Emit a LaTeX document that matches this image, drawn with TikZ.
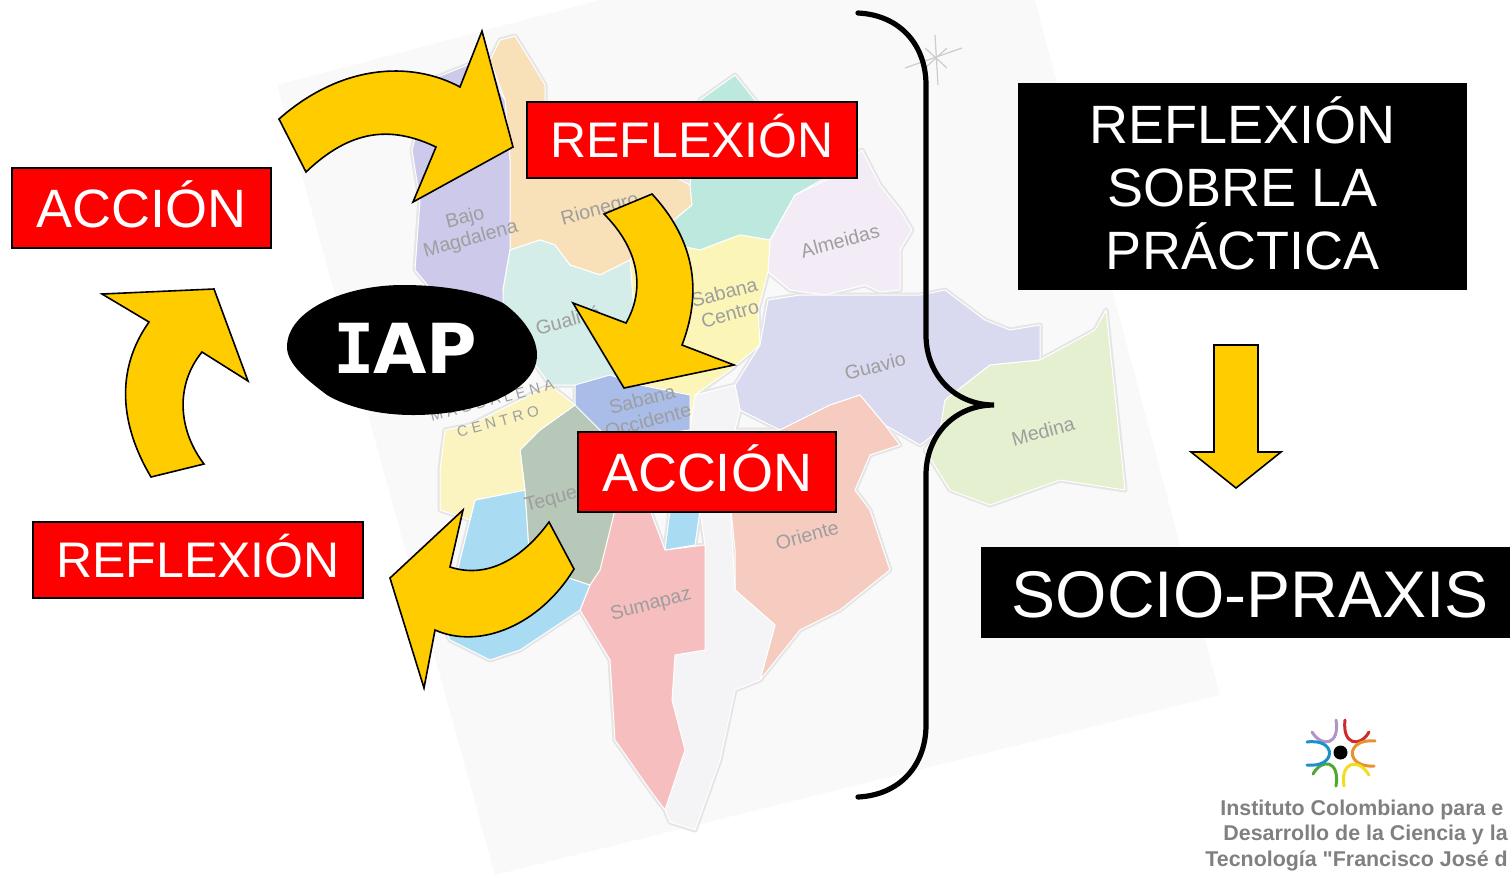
\documentclass[tikz,border=0pt]{standalone}
\usepackage{fontspec}
\setmainfont{Liberation Sans}
\newfontfamily\logofont{Liberation Sans}
\newfontfamily\iapmono{DejaVu Sans Mono}
\newfontfamily\iapsans{DejaVu Sans}

\definecolor{arrowyellow}{HTML}{FFCC00}
\definecolor{paper}{HTML}{F9F9F9}
\definecolor{logopurple}{HTML}{B094C8}
\definecolor{logored}{HTML}{D02A2A}
\definecolor{logoorange}{HTML}{E8922F}
\definecolor{logoyellow}{HTML}{F2DC20}
\definecolor{logogreen}{HTML}{50A832}
\definecolor{logoblue}{HTML}{1A90D0}

\tikzset{
    redbox/.style={fill=red, draw=black, line width=0.8pt, text=white, inner sep=0pt},
    blackbox/.style={fill=black, text=white, inner sep=0pt, align=center},
    bigarrow/.style={fill=arrowyellow, draw=black, line width=0.8pt, line join=miter},
    mapregion/.style={fill=regioncolor, draw=white, line width=0.5pt, line join=round},
    maplabel/.style={text=black!38, font=\fontsize{9.8}{11}\selectfont, rotate=15, align=center, inner sep=0pt},
    logoarc/.style={line width=1.5pt, line cap=round},
    logotext/.style={text=black!50, font=\logofont\bfseries\fontsize{10.7}{12}\selectfont, anchor=base west, inner sep=0pt}
}

\newcommand{\mapregion}[2]{
    \definecolor{regioncolor}{HTML}{#1}
    \draw [mapregion] #2 -- cycle;
}

\newcommand{\mapregions}{
    \mapregion{F8E0B8}{(500,40) -- (515,36) -- (530,60) -- (545,85) -- (545,105) -- (690,185) -- (692,205) -- (650,240) -- (630,260) -- (600,275) -- (570,265) -- (555,245) -- (540,240) -- (510,250) -- (505,220) -- (510,160) -- (505,100) -- (490,60)}
    \mapregion{CDC9EA}{(430,80) -- (455,70) -- (480,60) -- (505,100) -- (510,160) -- (510,250) -- (503,290) -- (510,330) -- (440,300) -- (415,270) -- (420,200) -- (412,150)}
    \mapregion{D4EDE8}{(510,250) -- (540,240) -- (555,245) -- (570,265) -- (600,275) -- (630,260) -- (650,300) -- (630,385) -- (575,385) -- (550,385) -- (503,320) -- (503,290)}
    \mapregion{BDE8DE}{(700,100) -- (735,75) -- (755,100) -- (825,178) -- (795,195) -- (770,240) -- (740,235) -- (700,250) -- (650,240) -- (692,205) -- (690,185)}
    \mapregion{F3ECF7}{(795,195) -- (830,178) -- (862,150) -- (880,185) -- (900,210) -- (912,230) -- (900,250) -- (900,290) -- (880,292) -- (865,285) -- (825,295) -- (790,290) -- (768,272) -- (770,240)}
    \mapregion{FBF6B8}{(630,260) -- (650,240) -- (700,250) -- (740,235) -- (770,240) -- (768,272) -- (758,310) -- (760,345) -- (730,370) -- (695,395) -- (690,430) -- (640,385)}
    \mapregion{D9D9F0}{(768,300) -- (800,295) -- (860,295) -- (920,295) -- (945,290) -- (985,320) -- (1010,330) -- (1040,325) -- (1040,360) -- (990,365) -- (945,400) -- (940,430) -- (920,445) -- (885,425) -- (860,395) -- (830,405) -- (780,430) -- (740,410) -- (735,385) -- (760,345)}
    \mapregion{E4F0D0}{(945,400) -- (990,365) -- (1040,360) -- (1095,330) -- (1106,310) -- (1125,490) -- (1060,480) -- (990,505) -- (950,490) -- (925,450) -- (940,430)}
    \mapregion{F6CCC0}{(830,405) -- (860,395) -- (885,425) -- (900,445) -- (870,455) -- (855,490) -- (870,510) -- (890,570) -- (840,610) -- (800,630) -- (760,680) -- (775,625) -- (735,590) -- (735,550) -- (730,500) -- (735,430) -- (780,430)}
    \mapregion{F4F4F7}{(695,395) -- (735,385) -- (740,410) -- (735,430) -- (730,500) -- (735,590) -- (775,625) -- (760,680) -- (735,690) -- (720,760) -- (695,830) -- (670,822) -- (665,810) -- (685,750) -- (672,700) -- (675,655) -- (705,650) -- (705,545) -- (700,510) -- (690,430)}
    \mapregion{F6BEBE}{(615,510) -- (650,510) -- (665,550) -- (705,545) -- (705,650) -- (675,655) -- (672,700) -- (685,750) -- (665,810) -- (650,790) -- (615,740) -- (610,660) -- (580,610) -- (590,585)}
    \mapregion{A9DCF2}{(670,510) -- (700,510) -- (695,545) -- (665,550)}
    \mapregion{A9DCF2}{(475,500) -- (525,490) -- (530,565) -- (590,585) -- (580,610) -- (520,650) -- (490,660) -- (450,640) -- (445,630) -- (460,560)}
    \mapregion{B8C8B8}{(520,450) -- (540,430) -- (575,405) -- (610,440) -- (615,510) -- (600,570) -- (590,585) -- (530,565) -- (525,490)}
    \mapregion{A9BDE8}{(575,385) -- (610,375) -- (640,385) -- (690,395) -- (690,430) -- (610,440) -- (575,405)}
    \mapregion{FBF4C0}{(445,430) -- (470,425) -- (550,385) -- (575,405) -- (540,430) -- (520,450) -- (525,490) -- (475,500) -- (470,520) -- (440,510) -- (440,470)}
}

\begin{document}
\begin{tikzpicture}[x=0.5pt, y=-0.5pt]
    \useasboundingbox (0,0) rectangle (1510,875);
    \clip (0,0) rectangle (1510,875);
    \fill [paper] (277,85) -- (600,0) -- (1035,0) -- (1220,695) -- (495,875) -- cycle;
    \begin{scope}[mapregion/.style={fill=black!10, draw=black!10, line width=2.5pt, line join=round}]
        \mapregions
    \end{scope}
    \mapregions

    \draw [black!20, line width=0.6pt] (935,35) -- (938,85) (905,68) -- (962,48) (925,48) -- (947,68) (947,48) -- (925,68);

    \node [maplabel] (bajomagdalena) at (468,229) {Bajo\\Magdalena};
    \node [maplabel] (rionegro) at (600,210) {Rionegro};
    \node [maplabel] (gualiva) at (568,320) {Gualivá};
    \node [maplabel] (sabanacentro) at (727,303) {Sabana\\Centro};
    \node [maplabel] (almeidas) at (840,241) {Almeidas};
    \node [maplabel] (guavio) at (875,366) {Guavio};
    \node [maplabel] (medina) at (1043,431) {Medina};
    \node [maplabel] (oriente) at (807,535) {Oriente};
    \node [maplabel] (sumapaz) at (651,605) {Sumapaz};
    \node [maplabel, font=\fontsize{7.5}{11}\selectfont] (magdalenacentro) at (495,411) {M A G D A L E N A\\C E N T R O};
    \node [maplabel] (sabanaoccidente) at (645,410) {Sabana\\Occidente};
    \node [maplabel] (tequendama) at (580,492) {Tequendama};

    \draw [bigarrow] (279,119) .. controls (340,65) and (410,60) .. (460,87) -- (482,31) -- (513,147) -- (413,202) -- (436,147) .. controls (390,125) and (350,130) .. (306,172) -- cycle;
    \draw [bigarrow] (652,194) .. controls (690,235) and (705,285) .. (682,345) -- (734,365) -- (624,388) -- (573,303) -- (626,323) .. controls (645,290) and (640,250) .. (604,214) -- cycle;
    \draw [bigarrow] (574,569) .. controls (540,625) and (480,650) .. (435,630) -- (424,688) -- (390,578) -- (463,510) -- (450,567) .. controls (490,580) and (525,555) .. (549,522) -- cycle;
    \draw [bigarrow] (151,477) .. controls (120,425) and (115,370) .. (149,322) -- (102,294) -- (214,289) -- (248,381) -- (202,352) .. controls (175,385) and (178,430) .. (204,464) -- cycle;
    \draw [bigarrow] (1214,345) -- (1258,345) -- (1258,452) -- (1281,452) -- (1236,488) -- (1191,452) -- (1214,452) -- cycle;

    \fill (287,347) .. controls (287,310) and (345,285) .. (403,285) .. controls (445,285) and (480,292) .. (503,303) .. controls (520,315) and (537,335) .. (537,355) .. controls (537,390) and (480,415) .. (413,415) .. controls (370,415) and (340,403) .. (327,395) .. controls (310,382) and (287,365) .. (287,347) -- cycle;
    \node [text=white, font=\bfseries\fontsize{34.5}{37}\selectfont, text height=25.2pt, text depth=0pt, inner sep=0pt] (iap) at (405.5,348) {{\iapmono I}\kern-1pt{\iapsans AP}};

    \node [redbox, minimum width=129.5pt, minimum height=40pt, font=\fontsize{27}{27}\selectfont, text height=19.3pt, text depth=0pt] (accionleft) at (141.5,208) {ACCIÓN};
    \node [redbox, minimum width=165pt, minimum height=38pt, font=\fontsize{25}{25}\selectfont, text height=17.9pt, text depth=0pt] (reflexiontop) at (692,140) {REFLEXIÓN};
    \node [redbox, minimum width=129pt, minimum height=40pt, font=\fontsize{27}{27}\selectfont, text height=19.3pt, text depth=0pt] (accionright) at (707,472) {ACCIÓN};
    \node [redbox, minimum width=165pt, minimum height=38pt, font=\fontsize{25}{25}\selectfont, text height=17.9pt, text depth=0pt] (reflexionbottom) at (198,560) {REFLEXIÓN};

    \draw [line width=2.6pt, line cap=round] (858,13) .. controls (900,15) and (926,45) .. (926,85) -- (926,335) .. controls (926,375) and (955,405) .. (994,405) .. controls (955,405) and (926,435) .. (926,475) -- (926,725) .. controls (926,765) and (900,795) .. (858,797);

    \node [blackbox, minimum width=224.5pt, minimum height=103.5pt] (practicabox) at (1242.5,186.5) {};
    \node [blackbox, font=\fontsize{27}{31.5}\selectfont] (practicatext) at (1242.5,183.5) {REFLEXIÓN\\SOBRE LA\\PRÁCTICA};
    \node [blackbox, minimum width=264.5pt, minimum height=45.5pt] (sociobox) at (1245.5,592.5) {};
    \node [blackbox, font=\fontsize{33}{33}\selectfont, text height=23.6pt, text depth=0pt] (sociotext) at (1250,594) {SOCIO-PRAXIS};

    \draw [logoarc, color=logopurple] (1312,732) .. controls (1322,748) and (1340,745) .. (1336,720);
    \draw [logoarc, color=logored] (1345,720) .. controls (1342,745) and (1360,748) .. (1369,732);
    \draw [logoarc, color=logoorange] (1375,741) .. controls (1345,738) and (1345,768) .. (1374,766);
    \draw [logoarc, color=logoyellow] (1369,775) .. controls (1358,757) and (1340,762) .. (1344,786);
    \draw [logoarc, color=logogreen] (1336,786) .. controls (1340,760) and (1322,758) .. (1313,774);
    \draw [logoarc, color=logoblue] (1307,742) .. controls (1337,738) and (1337,768) .. (1307,765);
    \fill (1340.5,752.5) circle (7);

    \node [logotext] (logoline1) at (1220,815) {Instituto Colombiano para e};
    \node [logotext] (logoline2) at (1223,840) {Desarrollo de la Ciencia y la};
    \node [logotext] (logoline3) at (1205,866) {Tecnología "Francisco José d};
\end{tikzpicture}
\end{document}
